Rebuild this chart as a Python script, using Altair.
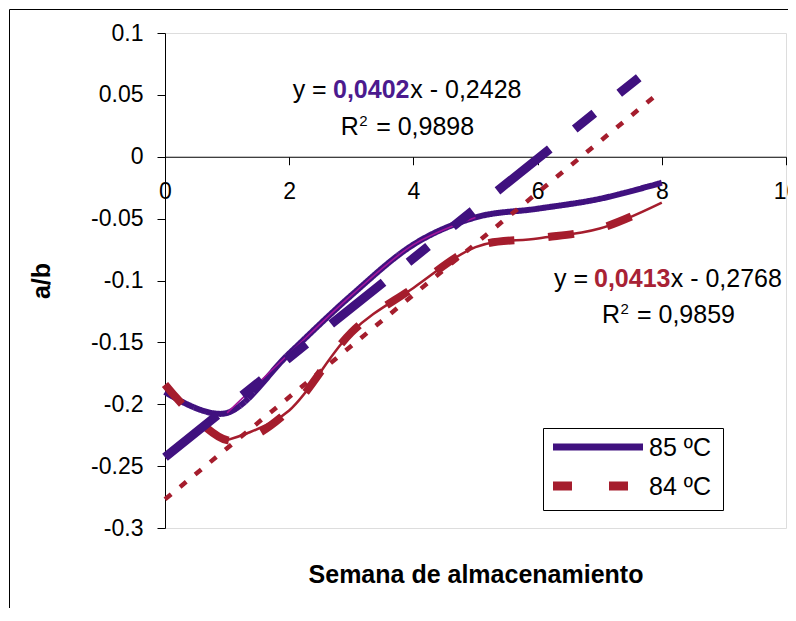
import altair as alt
import pandas as pd

# ---- data ----
weeks = [0, 1, 2, 3, 4, 5, 6, 7, 8]
ab_85 = [-0.190, -0.207, -0.159, -0.112, -0.071, -0.049, -0.042, -0.034, -0.021]
ab_84 = [-0.184, -0.229, -0.205, -0.142, -0.106, -0.073, -0.066, -0.058, -0.037]
series_names = ["85 ºC", "84 ºC"]

trend_x = [0, 8]
trend_85 = [-0.2428, 0.0788]   # y = 0,0402x - 0,2428
trend_84 = [-0.2768, 0.0536]   # y = 0,0413x - 0,2768

x_ticks = [0, 2, 4, 6, 8, 10]
y_ticks = [-0.3, -0.25, -0.2, -0.15, -0.1, -0.05, 0, 0.05, 0.1]

eq_texts_plain = ["y = ", "x - 0,2428", "R", "= 0,9898", "y = ", "x - 0,2768", "R", "= 0,9859"]
eq_plain_x = [2.056, 3.95, 2.829, 3.40, 6.264, 8.143, 7.037, 7.60]
eq_plain_y = [0.0475, 0.0475, 0.0176, 0.0176, -0.1053, -0.1053, -0.1343, -0.1343]
coef_texts = ["0,0402", "0,0413"]
coef_x = [2.705, 6.908]
coef_y = [0.0475, -0.1053]
sup_texts = ["2", "2"]
sup_x = [3.13, 7.335]
sup_y = [0.0245, -0.1274]

PURPLE = "#40117f"
RED = "#a51d2d"
MAGENTA = "#a3159b"
FONT = "Liberation Sans"

# ---- tables ----
series_df = pd.DataFrame({
    "week": weeks + weeks,
    "ab": ab_85 + ab_84,
    "serie": [series_names[0]] * len(weeks) + [series_names[1]] * len(weeks),
})
magenta_df = pd.DataFrame({"week": weeks[1:6], "ab": ab_85[1:6]})
thinred_df = pd.DataFrame({"week": weeks[1:], "ab": ab_84[1:]})
t85_df = pd.DataFrame({"week": trend_x, "ab": trend_85})
t84_df = pd.DataFrame({"week": trend_x, "ab": trend_84})
plain_df = pd.DataFrame({"week": eq_plain_x, "ab": eq_plain_y, "t": eq_texts_plain})
coef_df = pd.DataFrame({"week": coef_x, "ab": coef_y, "t": coef_texts, "c": ["p", "r"]})
sup_df = pd.DataFrame({"week": sup_x, "ab": sup_y, "t": sup_texts})
one_df = pd.DataFrame({"k": [0]})

xaxis = alt.Axis(
    values=x_ticks, title="Semana de almacenamiento", offset=-371.25,
    tickSize=8, labelPadding=16, labelFontSize=23, labelFont=FONT, labelColor="black",
    labelFlush=False, labelOverlap=False, labelExpr="'' + datum.value",
    titleFont=FONT, titleFontSize=25, titleFontWeight="bold", titleColor="black",
    titleY=405.5, domainColor="black", tickColor="black", grid=False, zindex=0,
)
yaxis = alt.Axis(
    values=y_ticks, title="a/b",
    tickSize=8, labelPadding=14, labelFontSize=23, labelFont=FONT, labelColor="black",
    labelOverlap=False, labelExpr="'' + datum.value",
    titleFont=FONT, titleFontSize=25, titleFontWeight="bold", titleColor="black",
    titleX=-124, titleY=247.5, titleAngle=270, titleAlign="center", titleBaseline="middle",
    domainColor="black", tickColor="black", grid=False, zindex=0,
)
X = alt.X("week:Q", scale=alt.Scale(domain=[0, 10], nice=False, zero=False), axis=xaxis)
Y = alt.Y("ab:Q", scale=alt.Scale(domain=[-0.3, 0.1], nice=False, zero=False), axis=yaxis)

series = alt.Chart(series_df).mark_line(
    interpolate="cardinal", tension=0, strokeCap="butt"
).encode(
    x=X, y=Y,
    color=alt.Color("serie:N", scale=alt.Scale(domain=series_names, range=[PURPLE, RED]), legend=None),
    strokeDash=alt.StrokeDash("serie:N", scale=alt.Scale(domain=series_names, range=[[1, 0], [26, 34]]), legend=None),
    strokeWidth=alt.StrokeWidth("serie:N", scale=alt.Scale(domain=series_names, range=[6, 8]), legend=None),
)

magenta = alt.Chart(magenta_df).mark_line(
    interpolate="cardinal", tension=0, color=MAGENTA, strokeWidth=1.6
).encode(x=X, y=Y)

thinred = alt.Chart(thinred_df).mark_line(
    interpolate="cardinal", tension=0, color=RED, strokeWidth=2.5
).encode(x=X, y=Y)

t85 = alt.Chart(t85_df).mark_line(
    color=PURPLE, strokeWidth=9, strokeDash=[67, 32, 25, 32, 25, 32], strokeCap="butt"
).encode(x=X, y=Y)

t84 = alt.Chart(t84_df).mark_line(
    color=RED, strokeWidth=4.5, strokeDash=[8, 11.5], strokeCap="butt"
).encode(x=X, y=Y)

plain = alt.Chart(plain_df).mark_text(
    align="left", baseline="alphabetic", font=FONT, fontSize=25, color="black"
).encode(x=X, y=Y, text="t:N")

coef = alt.Chart(coef_df).mark_text(
    align="left", baseline="alphabetic", font=FONT, fontSize=25, fontWeight="bold"
).encode(
    x=X, y=Y, text="t:N",
    color=alt.Color("c:N", scale=alt.Scale(domain=["p", "r"], range=["#4b1a8e", "#a82235"]), legend=None),
)

sup = alt.Chart(sup_df).mark_text(
    align="left", baseline="alphabetic", font=FONT, fontSize=15, color="black"
).encode(x=X, y=Y, text="t:N")

# outer chart frame
frame = alt.Chart(one_df).mark_rect(
    filled=False, stroke="black", strokeWidth=1
).encode(
    x=alt.value(-155.5), x2=alt.value(1000), y=alt.value(-23.5), y2=alt.value(1000)
)

# legend box (drawn as a boxed key, like the original)
leg_box = alt.Chart(one_df).mark_rect(
    color="white", stroke="black", strokeWidth=1
).encode(x=alt.value(378.5), x2=alt.value(558.5), y=alt.value(395.5), y2=alt.value(477.5))
leg_l1 = alt.Chart(one_df).mark_rule(color=PURPLE, strokeWidth=7, strokeCap="butt").encode(
    x=alt.value(388), x2=alt.value(478), y=alt.value(414))
leg_l2 = alt.Chart(one_df).mark_rule(color=RED, strokeWidth=9, strokeCap="butt", strokeDash=[19, 37]).encode(
    x=alt.value(388), x2=alt.value(478), y=alt.value(453))
leg_t1 = alt.Chart(one_df).mark_text(align="left", baseline="middle", font=FONT, fontSize=25, color="black").encode(
    x=alt.value(484), y=alt.value(415), text=alt.value(series_names[0]))
leg_t2 = alt.Chart(one_df).mark_text(align="left", baseline="middle", font=FONT, fontSize=25, color="black").encode(
    x=alt.value(484), y=alt.value(454), text=alt.value(series_names[1]))

chart = alt.layer(
    frame, series, magenta, thinred, t85, t84, plain, coef, sup,
    leg_box, leg_l1, leg_l2, leg_t1, leg_t2
).resolve_scale(color="independent").properties(
    width=621, height=495,
    autosize=alt.AutoSizeParams(type="none"),
    padding={"left": 157, "top": 25, "right": 2, "bottom": 80},
    background="white",
).configure_view(strokeWidth=0).configure(font=FONT)

chart.save("out.html", embed_options={"renderer": "svg", "actions": False})
